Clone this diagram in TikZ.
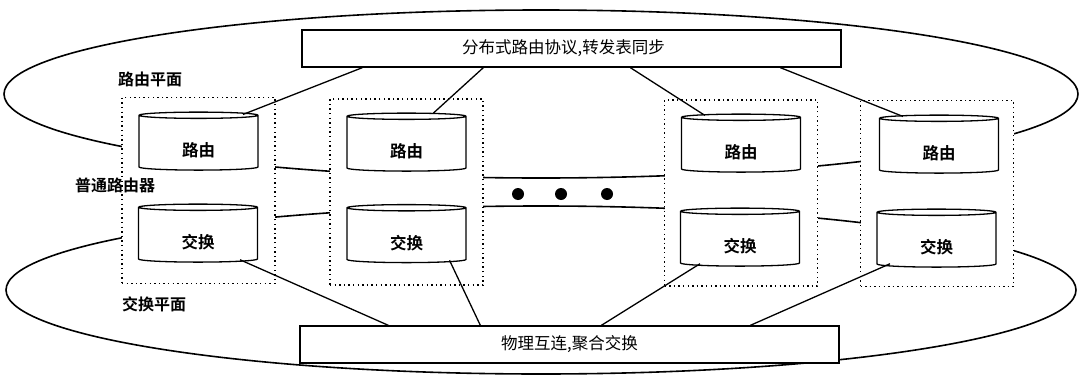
\documentclass[tikz,border=0pt]{standalone}
\usepackage{fontspec}
\newfontfamily\cjk[BoldFont={Noto Sans CJK SC Bold}]{Noto Sans CJK SC}
\usetikzlibrary{shapes.geometric,calc}
\begin{document}
\begin{tikzpicture}[x=1pt,y=-1pt,
  plane/.style={line width=1.6pt},
  dotbox/.style={draw, fill=white, line width=1.5pt, dash pattern=on 1.4pt off 3.2pt, minimum width=153pt, minimum height=186pt, inner sep=0pt},
  cyl/.style={cylinder, shape border rotate=90, aspect=0.19, draw, fill=white, line width=1.3pt, minimum width=119pt, minimum height=58pt, inner sep=0pt, text height=30pt, text depth=3pt, font=\cjk\bfseries\fontsize{16.5}{19}\selectfont},
  bar/.style={draw, fill=white, line width=1.3pt, minimum width=539pt, minimum height=37pt, inner sep=0pt, font=\cjk\fontsize{16.5}{19}\selectfont},
  lbl/.style={font=\cjk\bfseries\fontsize{16}{19}\selectfont, inner sep=0pt},
  conn/.style={line width=1.3pt},
  dot/.style={circle, fill=black, minimum size=12pt, inner sep=0pt}]
\useasboundingbox (0,0) rectangle (1087,375);
% planes
\draw[plane] (541,94) ellipse [x radius=537pt, y radius=84pt];
\draw[plane] (541,290) ellipse [x radius=535pt, y radius=84pt];
% router boxes
\node[dotbox] (b1) at (198.5,190.5) {};
\node[dotbox] (b2) at (406.5,192) {};
\node[dotbox] (b3) at (741,193) {};
\node[dotbox] (b4) at (937,193.5) {};
% cylinders
\node[cyl] (r1) at (198.5,143) {路由};
\node[cyl] (s1) at (198,235) {交换};
\node[cyl] (r2) at (406.5,144) {路由};
\node[cyl] (s2) at (406.5,235.5) {交换};
\node[cyl] (r3) at (741,145) {路由};
\node[cyl] (s3) at (740,239) {交换};
\node[cyl] (r4) at (939,146) {路由};
\node[cyl] (s4) at (936.5,240) {交换};
% bars
\node[bar] (top) at (571.5,48.5) {\hspace*{-16pt}分布式路由协议,转发表同步};
\node[bar] (bot) at (569.5,344.5) {物理互连,聚合交换};
% labels
\node[lbl] (l1) at (150,79) {路由平面};
\node[lbl] (l2) at (115,185) {普通路由器};
\node[lbl] (l3) at (154,304) {交换平面};
% dots
\node[dot] (d1) at (518,194) {};
\node[dot] (d2) at (561,194) {};
\node[dot] (d3) at (607,194) {};
% connectors
\draw[conn] ($(r1.north)+(44.5,3)$) -- ($(top.south west)+(61,0)$);
\draw[conn] ($(r2.north)+(26.5,1)$) -- ($(top.south west)+(182,0)$);
\draw[conn] ($(r3.north)+(-36,2)$) -- ($(top.south west)+(329,0)$);
\draw[conn] ($(r4.north)+(-36,2)$) -- ($(top.south west)+(479,0)$);
\draw[conn] ($(s1.south)+(42,-3)$) -- ($(bot.north west)+(89,0)$);
\draw[conn] ($(s2.south)+(43,-3)$) -- ($(bot.north west)+(181,0)$);
\draw[conn] ($(s3.south)+(-40,-3)$) -- ($(bot.north west)+(302,0)$);
\draw[conn] ($(s4.south)+(-46.5,-4)$) -- ($(bot.north west)+(451,0)$);
\end{tikzpicture}
\end{document}
